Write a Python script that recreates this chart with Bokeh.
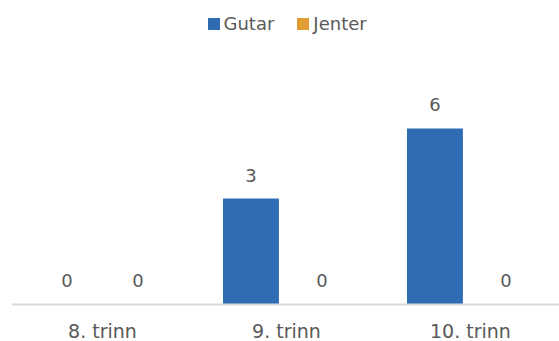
from bokeh.plotting import figure
from bokeh.models import ColumnDataSource, Range1d, Legend, LegendItem, Span
from bokeh.transform import dodge
from bokeh.embed import file_html
from bokeh.resources import INLINE
from bokeh.core.properties import value

categories = ["8. trinn", "9. trinn", "10. trinn"]
gutar = [0, 3.4, 5.65]
jenter = [0, 0, 0]
series_names = ["Gutar", "Jenter"]
colors = ["#2E6CB4", "#E09E34"]

FONT = "DejaVu Sans"
TXT = "#595959"

xs = list(range(len(categories)))
src = ColumnDataSource(dict(
    x=xs,
    cat=categories,
    base=[0] * len(categories),
    gutar=gutar,
    jenter=jenter,
    gutar_lbl=[f"{v:.0f}" for v in gutar],
    jenter_lbl=[f"{v:.0f}" for v in jenter],
))

p = figure(width=559, height=341, output_backend="svg", toolbar_location=None,
           x_range=Range1d(-0.4946, 2.484), y_range=Range1d(-1.19, 9.76),
           min_border_left=11, min_border_right=0, min_border_top=0,
           min_border_bottom=0, outline_line_color=None)

off = 0.193
bw = 0.304
r1 = p.vbar(x=dodge("x", -off, range=p.x_range), top="gutar", bottom=0, width=bw,
            source=src, fill_color=colors[0], line_color=None)
r2 = p.vbar(x=dodge("x", off, range=p.x_range), top="jenter", bottom=0, width=bw,
            source=src, fill_color=colors[1], line_color=None)

# baseline (category axis line)
p.add_layout(Span(location=0, dimension="width", line_color="#D9D9D9", line_width=2))

# value labels
for col, lbl, o in (("gutar", "gutar_lbl", -off), ("jenter", "jenter_lbl", off)):
    p.text(x=dodge("x", o, range=p.x_range), y=col, text=lbl, source=src,
           text_align="center", text_baseline="alphabetic", y_offset=-23.5,
           text_font=value(FONT), text_font_size="18px", text_color=TXT)

# category labels
p.text(x="x", y="base", text="cat", source=src, text_align="center",
       text_baseline="alphabetic", y_offset=27,
       text_font=value(FONT), text_font_size="19px", text_color=TXT)

p.xgrid.visible = False
p.ygrid.visible = False
p.xaxis.visible = False
p.yaxis.visible = False

legend = Legend(items=[LegendItem(label=series_names[0], renderers=[r1]),
                       LegendItem(label=series_names[1], renderers=[r2])],
                orientation="horizontal", location=(194.5, 307),
                glyph_width=15, glyph_height=15, label_height=20,
                label_standoff=3, spacing=21, padding=0, margin=0,
                background_fill_alpha=0, border_line_alpha=0,
                label_text_font=FONT, label_text_font_size="18px",
                label_text_color=TXT)
p.add_layout(legend)

open("out.html", "w").write(file_html(p, INLINE))
